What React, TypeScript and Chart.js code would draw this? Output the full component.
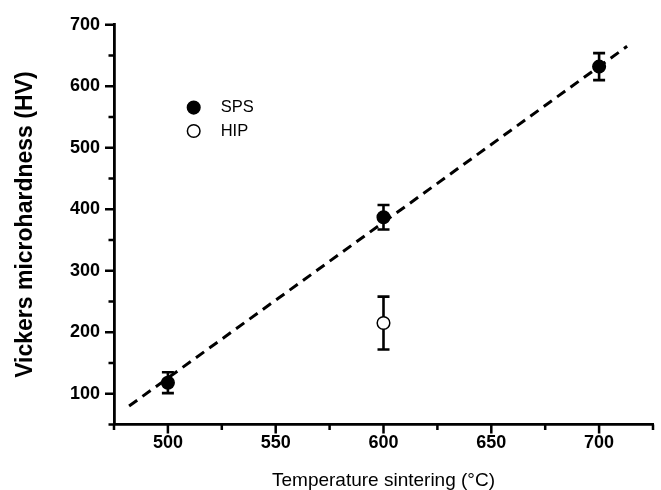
import React, { useEffect, useRef } from 'react';
import { Chart, registerables } from 'chart.js';

Chart.register(...registerables);

// ---- data ----
const spsTemps = [500, 600, 700];
const spsHardness = [118, 387, 632];
const spsError = [17, 20, 22];

const hipTemps = [600];
const hipHardness = [215];
const hipError = [43];

const fitTemps = [482, 713];
const fitHardness = [80, 665];

const xTickLabels = [500, 550, 600, 650, 700];
const yTickLabels = [100, 200, 300, 400, 500, 600, 700];

const FONT = '"Liberation Sans", Arial, Helvetica, sans-serif';

const errorMap: Record<string, number[]> = { SPS: spsError, HIP: hipError };

const errorBarPlugin = {
  id: 'errorBars',
  beforeDatasetsDraw(chart: any) {
    const { ctx, scales } = chart;
    const x = scales.x;
    const y = scales.y;
    chart.data.datasets.forEach((ds: any) => {
      const errs = errorMap[ds.label];
      if (!errs) return;
      ds.data.forEach((p: any, j: number) => {
        const px = x.getPixelForValue(p.x);
        const top = y.getPixelForValue(p.y + errs[j]);
        const bot = y.getPixelForValue(p.y - errs[j]);
        ctx.save();
        ctx.strokeStyle = '#000';
        ctx.lineWidth = 2.6;
        ctx.beginPath();
        ctx.moveTo(px, top);
        ctx.lineTo(px, bot);
        ctx.moveTo(px - 6, top);
        ctx.lineTo(px + 6, top);
        ctx.moveTo(px - 6, bot);
        ctx.lineTo(px + 6, bot);
        ctx.stroke();
        ctx.restore();
      });
    });
  },
};

const tickMarkPlugin = {
  id: 'tickMarks',
  afterDraw(chart: any) {
    const { ctx, chartArea, scales } = chart;
    const x = scales.x;
    const y = scales.y;
    ctx.save();
    ctx.strokeStyle = '#000';
    ctx.lineWidth = 2.5;
    ctx.beginPath();
    x.ticks.forEach((t: any) => {
      const px = x.getPixelForValue(t.value);
      const len = t.value % 50 === 0 ? 9 : 5.5;
      ctx.moveTo(px, chartArea.bottom);
      ctx.lineTo(px, chartArea.bottom + len);
    });
    y.ticks.forEach((t: any) => {
      const py = y.getPixelForValue(t.value);
      const len = t.value % 100 === 0 ? 9 : 5.5;
      ctx.moveTo(chartArea.left, py);
      ctx.lineTo(chartArea.left - len, py);
    });
    ctx.stroke();
    ctx.restore();
  },
};

const legendPlugin = {
  id: 'customLegend',
  afterDraw(chart: any) {
    const { ctx, chartArea } = chart;
    const items = chart.data.datasets.filter((d: any) => errorMap[d.label]);
    const mx = chartArea.left + 79.7;
    const tx = chartArea.left + 106.7;
    let my = chartArea.top + 82.8;
    ctx.save();
    items.forEach((d: any) => {
      ctx.beginPath();
      ctx.arc(mx, my, 6.3, 0, Math.PI * 2);
      ctx.fillStyle = d.backgroundColor;
      ctx.fill();
      ctx.lineWidth = 1.5;
      ctx.strokeStyle = d.borderColor;
      ctx.stroke();
      ctx.fillStyle = '#000';
      ctx.font = `16.5px ${FONT}`;
      ctx.textAlign = 'left';
      ctx.textBaseline = 'middle';
      ctx.fillText(d.label, tx, my);
      my += 23.4;
    });
    ctx.restore();
  },
};

export default function App() {
  const ref = useRef<HTMLCanvasElement | null>(null);

  useEffect(() => {
    if (!ref.current) return;
    const chart = new Chart(ref.current, {
      type: 'scatter',
      data: {
        datasets: [
          {
            label: 'fit',
            data: fitTemps.map((t, i) => ({ x: t, y: fitHardness[i] })),
            showLine: true,
            borderColor: '#000',
            borderWidth: 3,
            borderDash: [10, 6.5],
            pointRadius: 0,
            fill: false,
          } as any,
          {
            label: 'SPS',
            data: spsTemps.map((t, i) => ({ x: t, y: spsHardness[i] })),
            backgroundColor: '#000',
            borderColor: '#000',
            borderWidth: 1.5,
            pointRadius: 6.3,
          },
          {
            label: 'HIP',
            data: hipTemps.map((t, i) => ({ x: t, y: hipHardness[i] })),
            backgroundColor: '#fff',
            borderColor: '#000',
            borderWidth: 1.5,
            pointRadius: 6.3,
          },
        ],
      },
      options: {
        animation: false,
        responsive: false,
        maintainAspectRatio: false,
        devicePixelRatio: 1,
        layout: { padding: { top: 20.5, right: 5, left: 0, bottom: 0 } },
        plugins: {
          legend: { display: false },
          tooltip: { enabled: false },
        },
        scales: {
          x: {
            type: 'linear',
            min: 475,
            max: 725,
            afterFit: (s: any) => {
              s.height = 65.5;
            },
            ticks: {
              stepSize: 25,
              autoSkip: false,
              maxRotation: 0,
              minRotation: 0,
              padding: 8,
              color: '#000',
              font: { family: FONT, size: 18, weight: 'bold' },
              callback: (v: any) => (xTickLabels.includes(Number(v)) ? String(v) : ''),
            },
            grid: { display: true, drawOnChartArea: false, drawTicks: false, tickLength: 0 },
            border: { display: true, color: '#000', width: 2.8 },
            title: {
              display: true,
              text: 'Temperature sintering (°C)',
              color: '#000',
              font: { family: FONT, size: 19, weight: 'normal' },
              padding: { top: 0, bottom: -2 },
            },
          },
          y: {
            type: 'linear',
            min: 50,
            max: 700,
            afterFit: (s: any) => {
              s.width = 114;
            },
            ticks: {
              stepSize: 50,
              autoSkip: false,
              padding: 14,
              color: '#000',
              font: { family: FONT, size: 18, weight: 'bold' },
              callback: (v: any) => (yTickLabels.includes(Number(v)) ? String(v) : ''),
            },
            grid: { display: true, drawOnChartArea: false, drawTicks: false, tickLength: 0 },
            border: { display: true, color: '#000', width: 2.8 },
            title: {
              display: true,
              text: 'Vickers microhardness (HV)',
              color: '#000',
              font: { family: FONT, size: 23, weight: 'bold' },
              padding: { top: 12, bottom: 0 },
            },
          },
        },
      } as any,
      plugins: [errorBarPlugin, tickMarkPlugin, legendPlugin],
    });
    return () => chart.destroy();
  }, []);

  return (
    <div style={{ position: 'absolute', left: 0, top: 0, width: 661, height: 490, background: '#fff' }}>
      <canvas ref={ref} width={661} height={490} style={{ display: 'block' }} />
    </div>
  );
}
